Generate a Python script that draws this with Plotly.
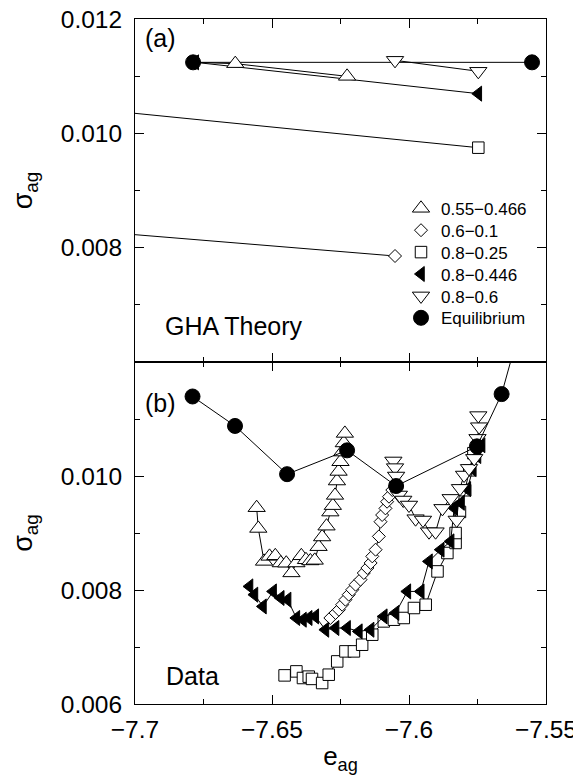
import plotly.graph_objects as go

# ---------------- tick labels ----------------
x_tick_values = [-7.7, -7.65, -7.6, -7.55]
x_tick_labels = ["−7.7", "−7.65", "−7.6", "−7.55"]
x_minor_ticks = [-7.675, -7.625, -7.575]
y_top_tick_values = [0.008, 0.010, 0.012]
y_top_tick_labels = ["0.008", "0.010", "0.012"]
y_bottom_tick_values = [0.006, 0.008, 0.010]
y_bottom_tick_labels = ["0.006", "0.008", "0.010"]
y_minor_ticks = [0.007, 0.009, 0.011]

series_names = ["0.55−0.466", "0.6−0.1", "0.8−0.25", "0.8−0.446", "0.8−0.6", "Equilibrium"]

# ---------------- (a) GHA theory ----------------
theory_up_x = [-7.6788, -7.6634, -7.6226]
theory_up_y = [0.011242, 0.011219, 0.010997]
theory_diamond_x = [-7.75, -7.6051]
theory_diamond_y = [0.008424, 0.007854]
theory_square_x = [-7.75, -7.5747]
theory_square_y = [0.010590, 0.009749]
theory_filled_x = [-7.6780, -7.5747]
theory_filled_y = [0.011242, 0.010694]
theory_down_x = [-7.6051, -7.5747]
theory_down_y = [0.011277, 0.011085]
theory_eq_x = [-7.6788, -7.5551]
theory_eq_y = [0.011242, 0.011242]

# ---------------- (b) data ----------------
data_up_x = [-7.6556, -7.6550, -7.6529, -7.6509, -7.6488, -7.6468, -7.6448, -7.6429,
             -7.6411, -7.6393, -7.6376, -7.6360, -7.6344, -7.6330, -7.6317, -7.6301,
             -7.6287, -7.6278, -7.6270, -7.6263, -7.6257, -7.6250, -7.6244, -7.6238,
             -7.6234]
data_up_y = [0.009444, 0.009080, 0.008502, 0.008590, 0.008600, 0.008474, 0.008470, 0.008300,
             0.008474, 0.008600, 0.008530, 0.008510, 0.008520, 0.008760, 0.008930, 0.009120,
             0.009367, 0.009480, 0.009660, 0.009912, 0.010080, 0.010250, 0.010420, 0.010580,
             0.010747]

data_diamond_x = [-7.6287, -7.6268, -7.6256, -7.6244, -7.6232, -7.6220, -7.6207, -7.6195,
                  -7.6177, -7.6165, -7.6152, -7.6140, -7.6134, -7.6122, -7.6110, -7.6104,
                  -7.6098, -7.6086, -7.6080, -7.6073, -7.6061, -7.6048]
data_diamond_y = [0.007509, 0.007597, 0.007654, 0.007742, 0.007830, 0.007918, 0.008005, 0.008093,
                  0.008181, 0.008298, 0.008386, 0.008474, 0.008590, 0.008707, 0.008940, 0.009198,
                  0.009316, 0.009432, 0.009549, 0.009637, 0.009754, 0.009880]

data_square_x = [-7.6454, -7.6411, -7.6387, -7.6366, -7.6354, -7.6317, -7.6293, -7.6262,
                 -7.6232, -7.6201, -7.6171, -7.6134, -7.6092, -7.6055, -7.6019, -7.5982,
                 -7.5939, -7.5896, -7.5860, -7.5830, -7.5830, -7.5814, -7.5795, -7.5780,
                 -7.5765]
data_square_y = [0.006502, 0.006572, 0.006456, 0.006480, 0.006440, 0.006368, 0.006514, 0.006747,
                 0.006923, 0.006923, 0.007040, 0.007216, 0.007449, 0.007479, 0.007509, 0.007684,
                 0.007742, 0.008326, 0.008649, 0.008825, 0.009000, 0.009370, 0.009750, 0.010100,
                 0.010400]

data_filled_x = [-7.6582, -7.6564, -7.6533, -7.6496, -7.6468, -7.6443, -7.6411, -7.6387,
                 -7.6366, -7.6342, -7.6305, -7.6268, -7.6226, -7.6183, -7.6140, -7.6092,
                 -7.6049, -7.6006, -7.5957, -7.5927, -7.5884, -7.5848, -7.5835, -7.5810,
                 -7.5787, -7.5767, -7.5750, -7.5735]
data_filled_y = [0.008063, 0.007918, 0.007712, 0.007975, 0.007860, 0.007830, 0.007509, 0.007479,
                 0.007509, 0.007537, 0.007303, 0.007333, 0.007333, 0.007274, 0.007303, 0.007537,
                 0.007597, 0.007975, 0.007975, 0.008502, 0.008707, 0.008853, 0.009440, 0.009530,
                 0.009770, 0.010120, 0.010350, 0.010540]

data_down_x = [-7.6057, -7.6051, -7.6047, -7.6037, -7.6021, -7.6000, -7.5976, -7.5949,
               -7.5927, -7.5903, -7.5878, -7.5848, -7.5826, -7.5814, -7.5799, -7.5781,
               -7.5762, -7.5750, -7.5744, -7.5747]
data_down_y = [0.010264, 0.010147, 0.010000, 0.009667, 0.009579, 0.009491, 0.009251, 0.009228,
               0.009023, 0.009023, 0.009432, 0.009607, 0.009228, 0.009783, 0.010017, 0.010134,
               0.010309, 0.010660, 0.010865, 0.011060]

data_eq_x = [-7.6790, -7.6635, -7.6445, -7.6226, -7.6047, -7.5752, -7.5662, -7.5595]
data_eq_y = [0.011395, 0.010878, 0.010032, 0.010450, 0.009824, 0.010520, 0.011437, 0.012600]

# ---------------- styles ----------------
FONT = "Liberation Sans, Arial, Helvetica, sans-serif"
LINE = dict(color="black", width=1)
styles = [
    dict(symbol="triangle-up", size=15, color="white", line=dict(color="black", width=1)),
    dict(symbol="diamond", size=10, color="white", line=dict(color="black", width=1)),
    dict(symbol="square", size=11.5, color="white", line=dict(color="black", width=1)),
    dict(symbol="triangle-left", size=13, color="black", line=dict(color="black", width=1)),
    dict(symbol="triangle-down", size=15, color="white", line=dict(color="black", width=1)),
    dict(symbol="circle", size=15, color="black", line=dict(color="black", width=1)),
]

theory = [
    (theory_up_x, theory_up_y, 1),
    (theory_diamond_x, theory_diamond_y, 1),
    (theory_square_x, theory_square_y, 1),
    (theory_filled_x, theory_filled_y, 0),
    (theory_down_x, theory_down_y, 0),
    (theory_eq_x, theory_eq_y, 0),
]
data = [
    (data_up_x, data_up_y),
    (data_diamond_x, data_diamond_y),
    (data_square_x, data_square_y),
    (data_filled_x, data_filled_y),
    (data_down_x, data_down_y),
    (data_eq_x, data_eq_y),
]

fig = go.Figure()

# (a) lines first, then markers (legend entries)
for (tx, ty, start), name in zip(theory, series_names):
    fig.add_trace(go.Scatter(x=tx, y=ty, mode="lines", line=LINE, showlegend=False,
                             hoverinfo="skip", xaxis="x", yaxis="y"))
for i, ((tx, ty, start), name, st) in enumerate(zip(theory, series_names, styles)):
    fig.add_trace(go.Scatter(x=tx[start:], y=ty[start:], mode="markers", marker=st,
                             name=name, showlegend=True,
                             legend="legend" if i == 0 else f"legend{i + 1}",
                             xaxis="x", yaxis="y"))

# (b) data
for (dx, dy), name, st in zip(data, series_names, styles):
    fig.add_trace(go.Scatter(x=dx, y=dy, mode="lines+markers", line=LINE, marker=st,
                             name=name, showlegend=False, xaxis="x2", yaxis="y2"))

# ---------------- layout ----------------
# the page body adds an 8px offset at the top-left; positions below are given
# in page pixels and converted to figure pixels.
OFF = 8
W, H = 581 - OFF, 779 - OFF
ML, MR, MT, MB = 135 - OFF, 35, 19 - OFF, 75
PW, PH = W - ML - MR, H - MT - MB


def px_x(p):
    return (p - OFF - ML) / PW


def px_y(p):
    return (H - MB - (p - OFF)) / PH


split = px_y(362)

common_x = dict(range=[-7.7, -7.55], tickmode="array", tickvals=x_tick_values,
                ticktext=x_tick_labels, ticks="inside", ticklen=9, tickwidth=1,
                tickcolor="black", showline=True, linecolor="black", linewidth=1,
                mirror="ticks", showgrid=False, zeroline=False, ticklabelstandoff=4,
                ticklabeloverflow="allow",
                minor=dict(tickmode="array", tickvals=x_minor_ticks, ticks="inside",
                           ticklen=5, tickwidth=1, tickcolor="black", showgrid=False),
                tickfont=dict(family=FONT, size=24.5, color="black"))
common_y = dict(range=[0.006, 0.012], tickmode="array", ticks="inside", ticklen=9,
                tickwidth=1, tickcolor="black", showline=True, linecolor="black",
                linewidth=1, mirror="ticks", showgrid=False, zeroline=False,
                ticklabelstandoff=7, ticklabeloverflow="allow",
                minor=dict(tickmode="array", tickvals=y_minor_ticks, ticks="inside",
                           ticklen=5, tickwidth=1, tickcolor="black", showgrid=False),
                tickfont=dict(family=FONT, size=24.5, color="black"),
                title=dict(text="σ<sub>ag</sub>", font=dict(family=FONT, size=27, color="black"),
                           standoff=34))

layout = dict(
    width=W, height=H, margin=dict(l=ML, r=MR, t=MT, b=MB, autoexpand=False),
    paper_bgcolor="white", plot_bgcolor="white",
    font=dict(family=FONT, color="black"),
    xaxis=dict(common_x, domain=[0, 1], anchor="y", showticklabels=False),
    yaxis=dict(common_y, domain=[split, 1], anchor="x", tickvals=y_top_tick_values,
               ticktext=y_top_tick_labels),
    xaxis2=dict(common_x, domain=[0, 1], anchor="y2",
                title=dict(text="e<sub>ag</sub>", font=dict(family=FONT, size=26, color="black"),
                           standoff=4)),
    yaxis2=dict(common_y, domain=[0, split], anchor="x2", tickvals=y_bottom_tick_values,
                ticktext=y_bottom_tick_labels),
    showlegend=True,
)

# one legend box per entry so the rows sit exactly as in the original
row_centers = [208.3 + 21.9 * k for k in range(6)]
for k, c in enumerate(row_centers):
    key = "legend" if k == 0 else f"legend{k + 1}"
    layout[key] = dict(x=px_x(401), y=px_y(c - 17.55), xanchor="left", yanchor="top",
                       xref="paper", yref="paper",
                       font=dict(family=FONT, size=17, color="black"),
                       bgcolor="rgba(0,0,0,0)", borderwidth=0, itemwidth=30)

ann_font = dict(family=FONT, size=25, color="black")
layout["annotations"] = [
    dict(text="(a)", x=px_x(143), y=px_y(38), xref="paper", yref="paper",
         xanchor="left", yanchor="middle", showarrow=False, font=ann_font),
    dict(text="GHA Theory", x=px_x(163), y=px_y(326), xref="paper", yref="paper",
         xanchor="left", yanchor="middle", showarrow=False, font=ann_font),
    dict(text="(b)", x=px_x(143), y=px_y(403), xref="paper", yref="paper",
         xanchor="left", yanchor="middle", showarrow=False, font=ann_font),
    dict(text="Data", x=px_x(164), y=px_y(676), xref="paper", yref="paper",
         xanchor="left", yanchor="middle", showarrow=False, font=ann_font),
]

fig.update_layout(layout)
fig.write_html("out.html")
